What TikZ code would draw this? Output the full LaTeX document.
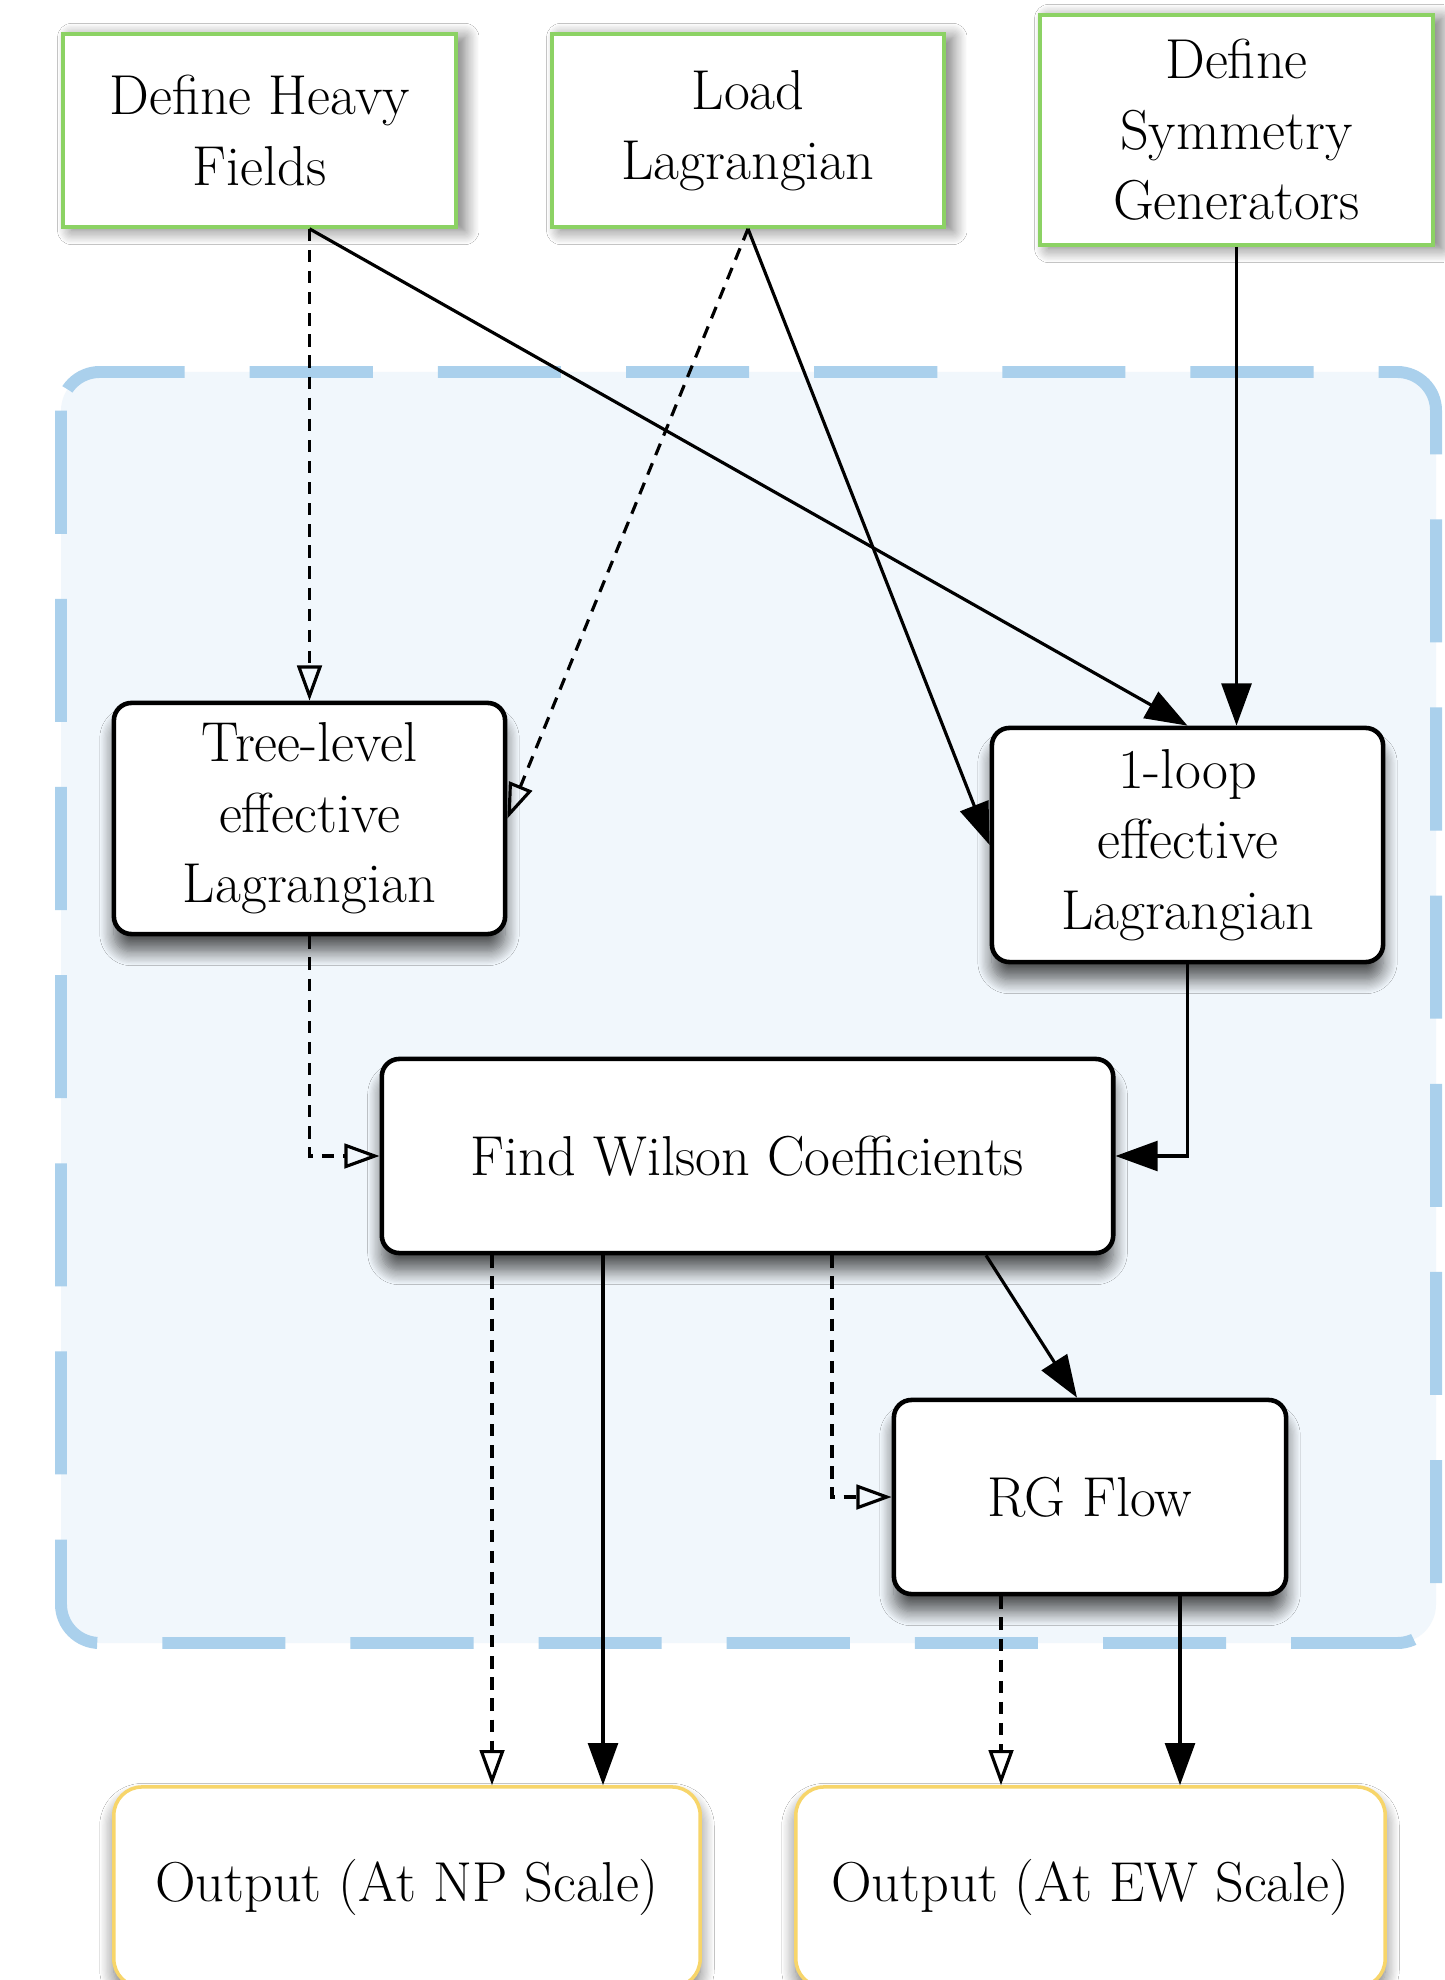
\documentclass[tikz,border=0pt]{standalone}
\usetikzlibrary{arrows.meta,calc,shadows.blur}
\definecolor{boxgreen}{RGB}{140,210,100}
\definecolor{boxyellow}{RGB}{247,213,106}
\definecolor{regionblue}{RGB}{170,208,236}
\definecolor{regionfill}{RGB}{241,247,252}
\begin{document}
\begin{tikzpicture}[x=0.01cm,y=-0.01cm,
  txt/.style={font=\fontsize{16}{20}\selectfont, align=center, inner sep=0pt},
  topbox/.style={txt, draw=boxgreen, line width=1pt, fill=white,
    blur shadow={shadow xshift=2.5pt, shadow yshift=-1pt, shadow blur radius=4pt, shadow blur steps=12, shadow opacity=55}},
  procbox/.style={txt, draw=black, line width=1.3pt, fill=white, rounded corners=5pt,
    blur shadow={shadow xshift=0pt, shadow yshift=-5pt, shadow blur radius=4pt, shadow blur steps=12, shadow opacity=65}},
  outbox/.style={txt, draw=boxyellow, line width=1pt, fill=white, rounded corners=8pt,
    blur shadow={shadow xshift=0pt, shadow yshift=-3pt, shadow blur radius=4pt, shadow blur steps=12, shadow opacity=55}},
  solidarrow/.style={line width=0.9pt, -{Triangle[length=12pt,width=8.5pt]}},
  dasharrow/.style={line width=0.9pt, dash pattern=on 3.5pt off 2.5pt, -{Triangle[open,length=10pt,width=7pt]}},
]
\useasboundingbox (0,0) rectangle (1444,1980);
\fill[white] (0,0) rectangle (1444,1980);

% region
\draw[draw=regionblue, line width=3.4pt, fill=regionfill, dash pattern=on 35pt off 18.5pt, rounded corners=11pt]
  (61,372) rectangle (1436,1643);

% nodes
\node[topbox, minimum width=3.93cm, minimum height=1.93cm] (heavy) at (259.5,130.5) {Define Heavy\\Fields};
\node[topbox, minimum width=3.92cm, minimum height=1.93cm] (load) at (748,130.5) {Load\\Lagrangian};
\node[topbox, minimum width=3.93cm, minimum height=2.30cm] (sym) at (1236.5,130) {Define\\Symmetry\\Generators};
\node[procbox, minimum width=3.91cm, minimum height=2.31cm] (tree) at (309.5,818.5) {Tree-level\\effective\\Lagrangian};
\node[procbox, minimum width=3.91cm, minimum height=2.34cm] (loop) at (1187.5,845) {1-loop\\effective\\Lagrangian};
\node[procbox, minimum width=7.31cm, minimum height=1.94cm] (wilson) at (747.5,1156) {Find Wilson Coefficients};
\node[procbox, minimum width=3.92cm, minimum height=1.94cm] (rg) at (1090,1497) {RG Flow};
\node[outbox, minimum width=5.86cm, minimum height=2.0cm] (np) at (407,1887) {Output (At NP Scale)};
\node[outbox, minimum width=5.89cm, minimum height=2.0cm] (ew) at (1090.5,1887) {Output (At EW Scale)};

% connectors
\coordinate (hf) at (tree.north |- heavy.south);
\draw[dasharrow] (hf) -- (tree.north);
\draw[solidarrow] (hf) -- (loop.north);
\draw[dasharrow] (load.south) -- (tree.east);
\draw[solidarrow] (load.south) -- (loop.west);
\draw[solidarrow] (sym.south) -- (sym.south |- loop.north);
\draw[dasharrow] (tree.south) |- (wilson.west);
\draw[solidarrow] (loop.south) |- (wilson.east);
\coordinate (npd) at ($(np.north)+(85,0)$);
\coordinate (nps) at ($(np.north)+(196,0)$);
\draw[dasharrow] (wilson.south -| npd) -- (npd);
\draw[solidarrow] (wilson.south -| nps) -- (nps);
\coordinate (wr) at ($(wilson.south)+(84.5,0)$);
\draw[dasharrow] (wr) |- (rg.west);
\coordinate (wd) at ($(wilson.south)+(238.5,0)$);
\coordinate (rgn) at ($(rg.north)+(-13,0)$);
\draw[solidarrow] (wd) -- (rgn);
\coordinate (ewd) at ($(ew.north)+(-89.5,0)$);
\coordinate (ews) at ($(ew.north)+(89.5,0)$);
\draw[dasharrow] (rg.south -| ewd) -- (ewd);
\draw[solidarrow] (rg.south -| ews) -- (ews);
\end{tikzpicture}
\end{document}
